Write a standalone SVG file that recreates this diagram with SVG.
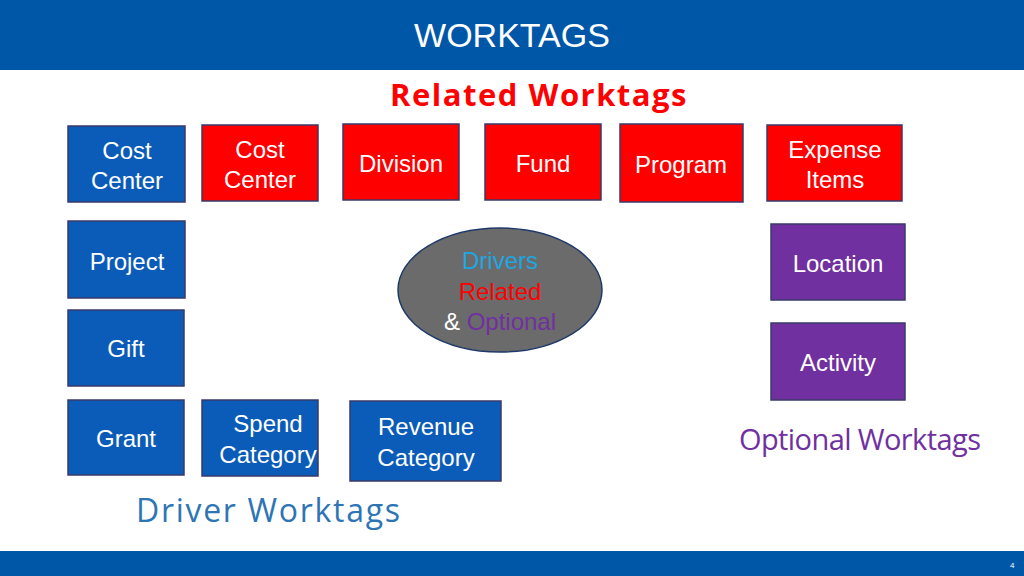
<svg xmlns="http://www.w3.org/2000/svg" width="1024" height="576" viewBox="0 0 1024 576">
<style>
.b{stroke:#3a3a6a;stroke-width:1.5}
.bl{fill:#0b5cb8}.rd{fill:#ff0000}.pp{fill:#7030a0}
.t{font-family:"Liberation Sans",Arial,sans-serif;font-size:24px;fill:#fff;text-anchor:middle}
.h{font-family:"Open Sans","Liberation Sans",sans-serif;font-size:30px;text-anchor:middle}
</style>
<rect width="1024" height="576" fill="#fff"/>
<rect width="1024" height="70" fill="#0057a8"/>
<text x="512" y="47" class="t" style="font-size:34px">WORKTAGS</text>
<rect y="551" width="1024" height="25" fill="#0057a8"/>
<text x="1010" y="568" font-family="Liberation Sans,sans-serif" font-size="8" fill="#fff">4</text>
<text x="539" y="106" class="h" fill="#ff0000" font-weight="bold" letter-spacing="1.5" style="font-size:31px">Related Worktags</text>
<text x="860" y="450" class="h" fill="#7030a0" style="font-size:29px" textLength="242">Optional Worktags</text>
<text x="268" y="522" class="h" fill="#2e75b6" style="font-size:32px" textLength="264">Driver Worktags</text>
<g id="cc1"><rect class="b bl" x="68" y="126" width="117" height="76"/><text class="t" x="127" y="159">Cost</text><text class="t" x="127" y="189">Center</text></g>
<g id="cc2"><rect class="b rd" x="202" y="125" width="116" height="76"/><text class="t" x="260" y="158">Cost</text><text class="t" x="260" y="188">Center</text></g>
<g id="div"><rect class="b rd" x="343" y="124" width="116" height="76"/><text class="t" x="401" y="172">Division</text></g>
<g id="fund"><rect class="b rd" x="485" y="124" width="116" height="76"/><text class="t" x="543" y="172">Fund</text></g>
<g id="prog"><rect class="b rd" x="620" y="124" width="123" height="78"/><text class="t" x="681" y="173">Program</text></g>
<g id="exp"><rect class="b rd" x="767" y="125" width="135" height="76"/><text class="t" x="835" y="158">Expense</text><text class="t" x="835" y="188">Items</text></g>
<g id="proj"><rect class="b bl" x="68" y="221" width="117" height="77"/><text class="t" x="127" y="270">Project</text></g>
<g id="gift"><rect class="b bl" x="68" y="310" width="116" height="76"/><text class="t" x="126" y="357">Gift</text></g>
<g id="grant"><rect class="b bl" x="68" y="400" width="116" height="75"/><text class="t" x="126" y="447">Grant</text></g>
<g id="spend"><rect class="b bl" x="202" y="400" width="116" height="76"/><text class="t" x="268" y="432">Spend</text><text class="t" x="268" y="463">Category</text></g>
<g id="rev"><rect class="b bl" x="350" y="401" width="151" height="80"/><text class="t" x="426" y="435">Revenue</text><text class="t" x="426" y="466">Category</text></g>
<g id="loc"><rect class="b pp" x="771" y="224" width="134" height="76"/><text class="t" x="838" y="272">Location</text></g>
<g id="act"><rect class="b pp" x="771" y="323" width="134" height="77"/><text class="t" x="838" y="371">Activity</text></g>
<g id="center"><ellipse cx="500" cy="290" rx="102" ry="62" fill="#6b6b6b" stroke="#1f3a6a" stroke-width="1.5"/>
<text class="t" x="500" y="269" fill="#1ea6e0" style="fill:#1ea6e0">Drivers</text>
<text class="t" x="500" y="300" style="fill:#ff0000">Related</text>
<text class="t" x="500" y="330"><tspan style="fill:#fff">&amp; </tspan><tspan style="fill:#7030a0">Optional</tspan></text></g>
<g id="connectors"/>
</svg>
